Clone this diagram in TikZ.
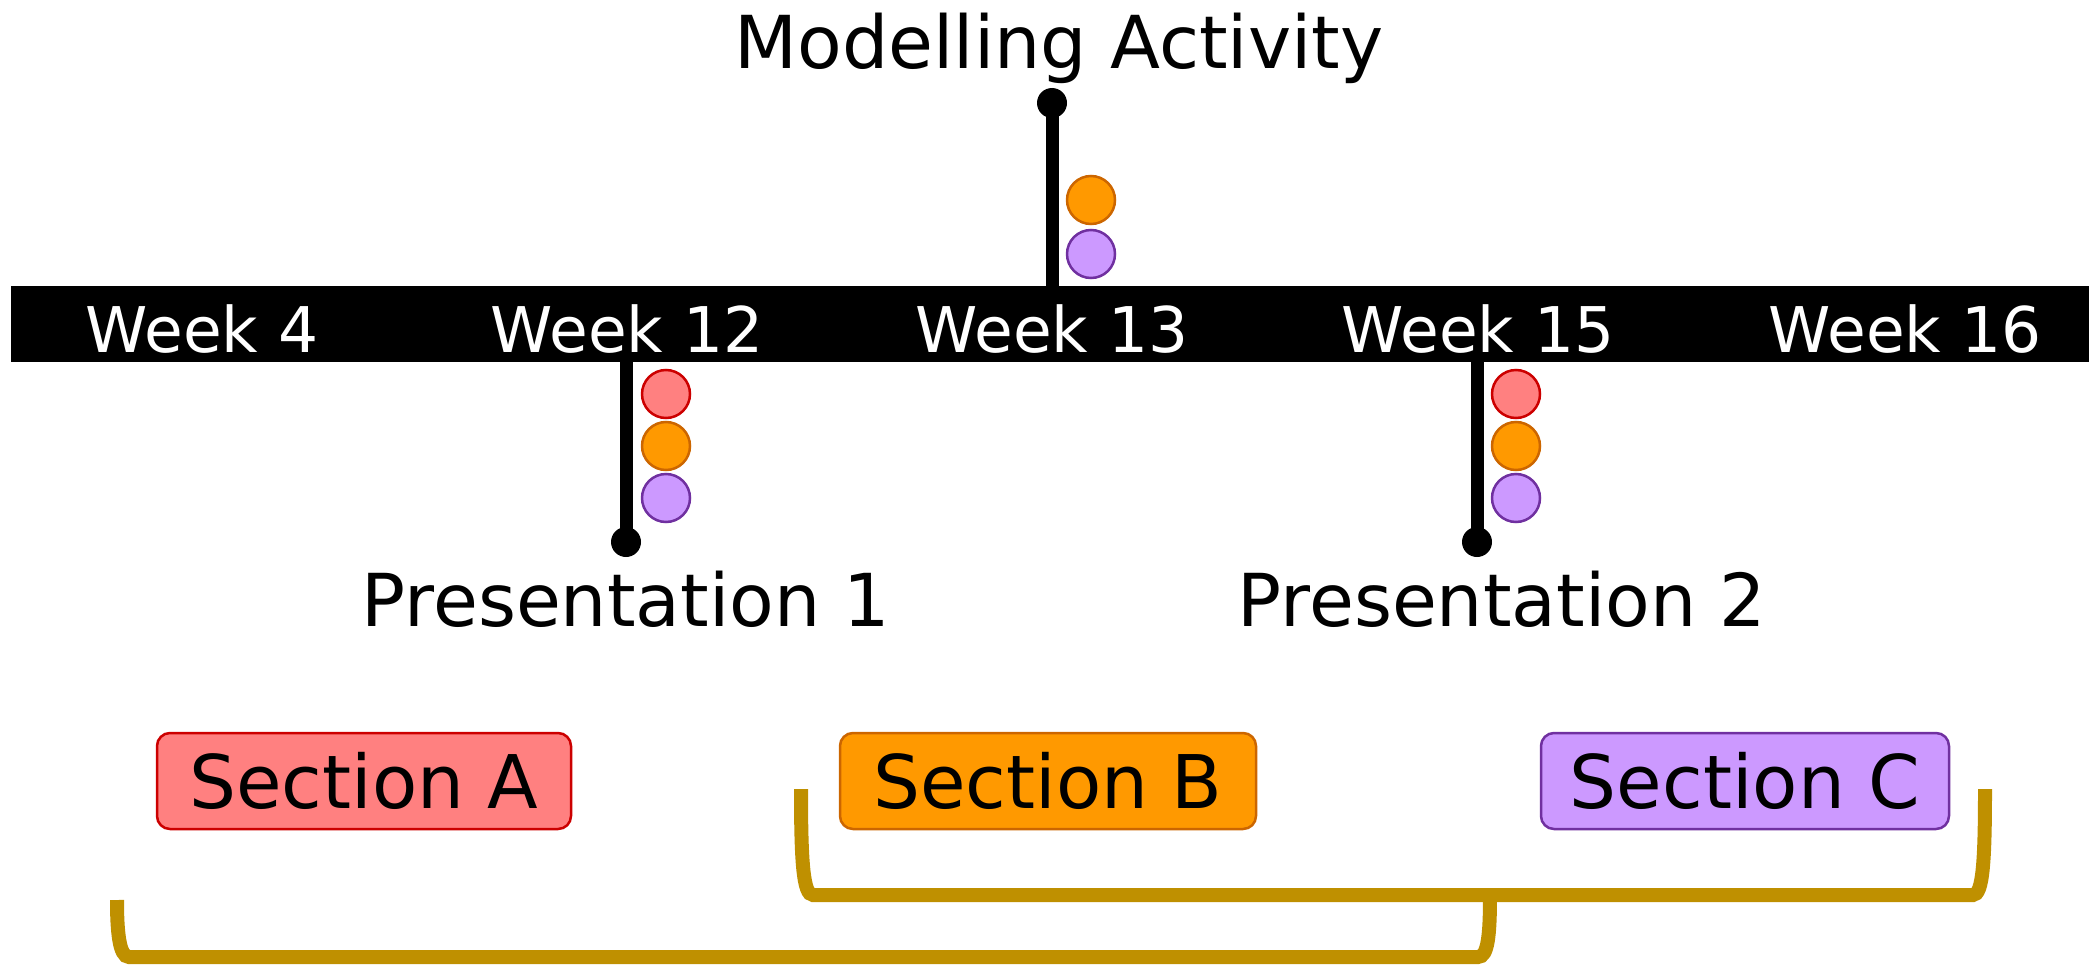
\documentclass[tikz,border=0pt]{standalone}
\usepackage{fontspec}
\setmainfont{DejaVu Sans}
\begin{document}
\definecolor{redfill}{HTML}{FF8080}
\definecolor{reddraw}{HTML}{CC0000}
\definecolor{orafill}{HTML}{FF9900}
\definecolor{oradraw}{HTML}{CC6600}
\definecolor{purfill}{HTML}{CC99FF}
\definecolor{purdraw}{HTML}{7030A0}
\definecolor{gold}{HTML}{BF9000}
\begin{tikzpicture}[x=1pt,y=-1pt,
  weeklabel/.style={text=white,anchor=base,inner sep=0pt,font=\fontsize{63}{70}\selectfont},
  biglabel/.style={anchor=base,inner sep=0pt,font=\fontsize{73}{80}\selectfont},
  stem/.style={line width=13pt},
  stemdot/.style={circle,fill=black,minimum size=30pt,inner sep=0pt},
  reddot/.style={circle,minimum size=48pt,inner sep=0pt,line width=2.5pt,fill=redfill,draw=reddraw},
  oradot/.style={circle,minimum size=48pt,inner sep=0pt,line width=2.5pt,fill=orafill,draw=oradraw},
  purdot/.style={circle,minimum size=48pt,inner sep=0pt,line width=2.5pt,fill=purfill,draw=purdraw},
  section/.style={rectangle,rounded corners=13pt,line width=2.5pt,minimum height=96pt,inner sep=0pt,
    font=\fontsize{74}{80}\selectfont},
  bracket/.style={draw=gold,line width=14pt}]
\useasboundingbox (0,0) rectangle (2089,966);

% timeline bar
\fill[black] (11,286) rectangle (2089,362);
\node[weeklabel] (w4)  at (202,352)  {Week 4};
\node[weeklabel] (w12) at (627,352)  {Week 12};
\node[weeklabel] (w13) at (1052,352) {Week 13};
\node[weeklabel] (w15) at (1478,352) {Week 15};
\node[weeklabel] (w16) at (1905,352) {Week 16};
\coordinate (bar12) at (626,360);
\coordinate (bar13) at (1052,288);
\coordinate (bar15) at (1477,360);

% modelling activity
\node[stemdot] (d13) at (1052,103) {};
\draw[stem] (d13.center) -- (bar13);
\node[biglabel] (ma) at (1059,69) {Modelling Activity};
\node[oradot] (o13) at (1091,200) {};
\node[purdot] (p13) at (1091,254) {};

% presentation 1
\node[stemdot] (d12) at (626,542) {};
\draw[stem] (bar12) -- (d12.center);
\node[biglabel] (pr1) at (626,626) {Presentation 1};
\node[reddot] (r12) at (666,394) {};
\node[oradot] (o12) at (666,446) {};
\node[purdot] (p12) at (666,498) {};

% presentation 2
\node[stemdot] (d15) at (1477,542) {};
\draw[stem] (bar15) -- (d15.center);
\node[biglabel] (pr2) at (1502,626) {Presentation 2};
\node[reddot] (r15) at (1516,394) {};
\node[oradot] (o15) at (1516,446) {};
\node[purdot] (p15) at (1516,498) {};

% sections
\node[section,fill=redfill,draw=reddraw,minimum width=414pt] (sa) at (364,781) {Section A};
\node[section,fill=orafill,draw=oradraw,minimum width=416pt] (sb) at (1048,781) {Section B};
\node[section,fill=purfill,draw=purdraw,minimum width=408pt] (sc) at (1745,781) {Section C};

% brackets
\coordinate (u1) at (801,789);
\coordinate (u2) at (1985,789);
\coordinate (l1) at (117,900);
\coordinate (lj) at (1490,895);
\draw[bracket] (u1) .. controls (801,860) and (803,895) .. (813,895)
  -- (1973,895) .. controls (1983,895) and (1985,860) .. (u2);
\draw[bracket] (l1) .. controls (117,930) and (119,957) .. (129,957)
  -- (1478,957) .. controls (1488,957) and (1490,935) .. (lj);
\end{tikzpicture}
\end{document}
